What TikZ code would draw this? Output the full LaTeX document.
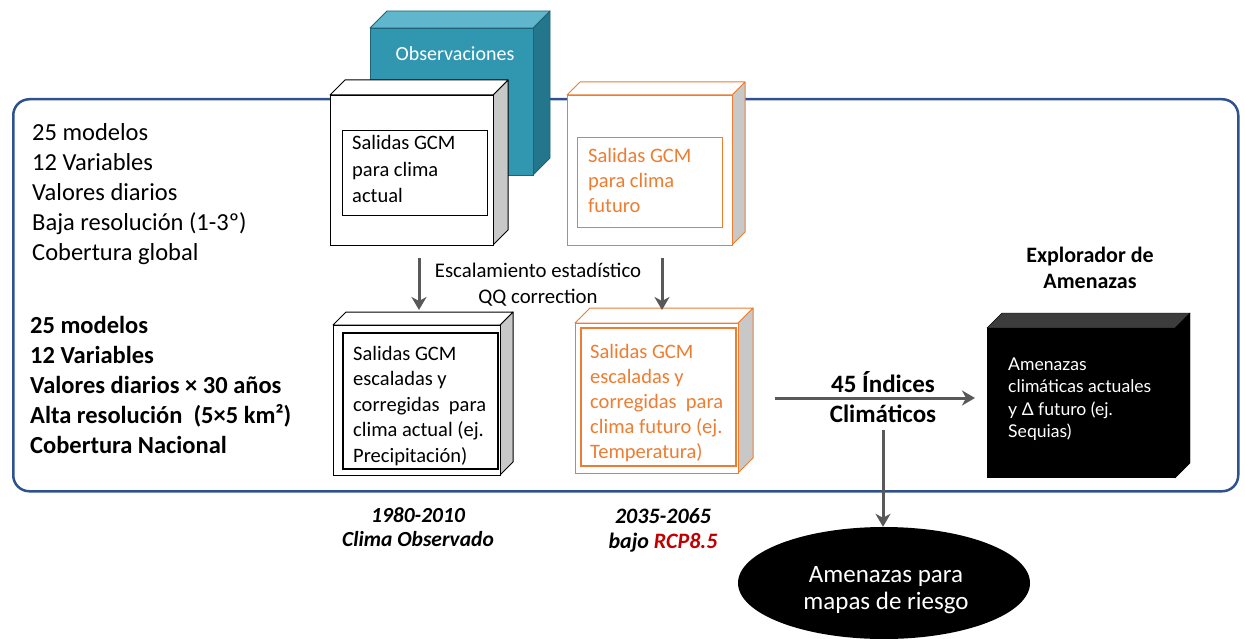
\documentclass[tikz,border=0pt]{standalone}
\usepackage{fontspec}
\setmainfont{Carlito}
\newfontfamily\latofont{Lato}
\usetikzlibrary{arrows.meta,shapes.geometric}
\definecolor{frameblue}{RGB}{47,82,143}
\definecolor{boxorange}{RGB}{237,125,49}
\definecolor{tealfront}{RGB}{49,151,176}
\definecolor{tealtop}{RGB}{95,182,205}
\definecolor{tealside}{RGB}{36,118,140}
\definecolor{tealline}{RGB}{31,100,118}
\definecolor{sidegray}{RGB}{200,200,200}
\definecolor{arrowgray}{RGB}{89,89,89}
\definecolor{rcpred}{RGB}{192,0,0}
\definecolor{blacktop}{RGB}{60,60,60}
\newcommand{\mycube}[7]{%
  \filldraw[#7side] (#2+#4,#3) -- ++(#6,-#6) -- ++(0,#5) -- ++(-#6,#6) -- cycle;
  \filldraw[#7top] (#2,#3) -- ++(#6,-#6) -- ++(#4,0) -- ++(-#6,#6) -- cycle;
  \node[#7front, inner sep=0pt, minimum width=#4pt, minimum height=#5pt, anchor=north west] (#1) at (#2,#3) {};
}
\newcommand{\textlines}[6]{%
  \foreach \t [count=\i] in {#6} {\node[#5] (#1\i) at (#2, {#3+(\i-1)*#4}) {\t};}%
}
\begin{document}
\begin{tikzpicture}[x=1pt,y=-1pt,
  fs/.style={font=\fontsize{#1}{#1}\selectfont},
  bfs/.style={font=\fontsize{#1}{#1}\selectfont\bfseries},
  lbl/.style={inner sep=0pt},
  wcside/.style={draw=black, fill=sidegray, line width=1pt, line join=round},
  wctop/.style={draw=black, fill=white, line width=1pt, line join=round},
  wcfront/.style={draw=black, fill=white, line width=1pt},
  ocside/.style={draw=boxorange, fill=sidegray, line width=1pt, line join=round},
  octop/.style={draw=boxorange, fill=white, line width=1pt, line join=round},
  ocfront/.style={draw=boxorange, fill=white, line width=1pt},
  tcside/.style={draw=tealline, fill=tealside, line width=0.8pt, line join=round},
  tctop/.style={draw=tealline, fill=tealtop, line width=0.8pt, line join=round},
  tcfront/.style={draw=tealline, fill=tealfront, line width=0.8pt},
  bcside/.style={fill=black},
  bctop/.style={fill=blacktop},
  bcfront/.style={fill=black},
  innerbox/.style={draw=#1, line width=1pt, inner sep=0pt, anchor=north west},
  garrow/.style={draw=arrowgray, line width=3pt, -{Stealth[length=13pt,width=15pt,inset=4pt]}},
]
\useasboundingbox (0,0) rectangle (1245,639);

% outer frame
\node[draw=frameblue, line width=2.5pt, rounded corners=16pt, minimum width=1225pt,
      minimum height=392pt, anchor=north west, inner sep=0pt] (frame) at (12,98) {};

% cubes
\mycube{obs}{370}{28}{163}{147}{17}{tc}
\node[lbl, fs=20, text=white, anchor=base] (obslbl) at (455,61) {Observaciones};

\mycube{gcmA}{330}{95}{163}{150}{15}{wc}
\node[innerbox=black, minimum width=145pt, minimum height=85pt] (gcmAin) at (342,130) {};
\textlines{gA}{352}{150}{26.5}{lbl, fs=20.5, anchor=base west}{Salidas GCM,para clima,actual}

\mycube{gcmF}{567}{95}{165}{150}{13}{oc}
\node[innerbox=boxorange, minimum width=145pt, minimum height=90pt] (gcmFin) at (577,137) {};
\textlines{gF}{588}{163}{25}{lbl, fs=20.5, text=boxorange, anchor=base west}{Salidas GCM,para clima,futuro}

\mycube{escA}{333}{325}{167}{150}{13}{wc}
\node[innerbox=black, line width=1.7pt, minimum width=155pt, minimum height=136pt] (escAin) at (342,332) {};
\textlines{eA}{353}{360}{25.5}{lbl, fs=20.5, anchor=base west}{Salidas GCM,escaladas y,corregidas\ \ para,clima actual (ej.,Precipitación)}

\mycube{escF}{575}{323}{163}{150}{15}{oc}
\node[innerbox=boxorange, line width=1.5pt, minimum width=155pt, minimum height=138pt] (escFin) at (580,327) {};
\textlines{eF}{590}{358}{25}{lbl, fs=20.5, text=boxorange, anchor=base west}{Salidas GCM,escaladas y,corregidas\ \ para,clima futuro (ej.,Temperatura)}

\mycube{expl}{987}{328}{188}{150}{15}{bc}
\textlines{ex}{1008}{370}{22.5}{lbl, text=white, font=\fontsize{17.6}{17.6}\latofont, anchor=base west}{Amenazas,climáticas actuales,y Δ futuro (ej.,Sequias)}

% titles
\textlines{et}{1090}{262}{26}{lbl, bfs=22, anchor=base}{Explorador de,Amenazas}
\textlines{ic}{883}{392}{30}{lbl, bfs=25, anchor=base}{45 Índices,Climáticos}

% left texts
\textlines{L}{32}{141}{30}{lbl, fs=24.5, anchor=base west}{25 modelos,12 Variables,Valores diarios,Baja resolución (1-3º),Cobertura global}
\textlines{B}{30}{333}{30}{lbl, bfs=24.5, anchor=base west}{25 modelos,12 Variables,Valores diarios × 30 años,Alta resolución\ \ (5×5 km²),Cobertura Nacional}

% scaling label
\textlines{sc}{538}{277}{26}{lbl, fs=20.8, anchor=base}{Escalamiento estadístico,QQ correction}

% period labels
\textlines{pA}{418}{522}{24}{lbl, font=\fontsize{21.5}{21.5}\selectfont\bfseries\itshape, anchor=base}{1980-2010,Clima Observado}
\node[lbl, font=\fontsize{22}{22}\selectfont\bfseries\itshape, anchor=base] (pF1) at (663,523) {2035-2065};
\node[lbl, font=\fontsize{22}{22}\selectfont\bfseries\itshape, anchor=base] (pF2) at (663,548) {bajo \textcolor{rcpred}{RCP8.5}};

% ellipse
\node[ellipse, fill=black, minimum width=292pt, minimum height=112pt, inner sep=0pt] (mapas) at (884,583) {};
\textlines{m}{886}{582}{27}{lbl, fs=25, text=white, anchor=base}{Amenazas para,mapas de riesgo}

% arrows
\coordinate (a1s) at (419,258);
\coordinate (a1e) at (419,310);
\coordinate (a2s) at (662,258);
\coordinate (a2e) at (662,310);
\coordinate (hs) at (775,398);
\coordinate (he) at (975,398);
\coordinate (vs) at (883,430);
\draw[garrow] (a1s) -- (a1e);
\draw[garrow] (a2s) -- (a2e);
\draw[garrow] (hs) -- (he);
\draw[garrow] (vs) -- (vs |- mapas.north);
\end{tikzpicture}
\end{document}
